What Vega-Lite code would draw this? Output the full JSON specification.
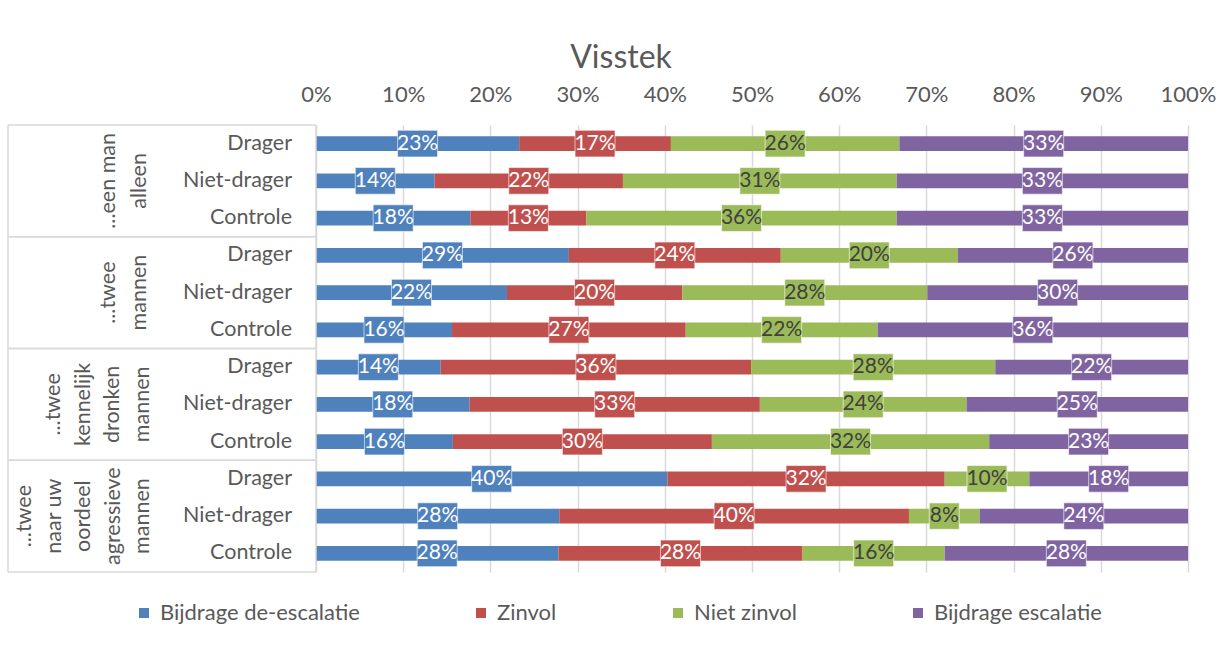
{
  "$schema": "https://vega.github.io/schema/vega-lite/v6.json",
  "autosize": {"type": "none"},
  "width": 1180,
  "height": 447,
  "padding": {"left": 8, "top": 125, "right": 30, "bottom": 80},
  "background": "white",
  "config": {"view": {"stroke": null}, "font": "Lato"},
  "title": {"text": "Visstek", "fontSize": 32, "font": "Lato", "fontWeight": "normal", "color": "#595959", "anchor": "middle", "dx": 23, "offset": 8},
  "data": {"values": [
    {"group": "...een man\nalleen", "cond": "Drager", "cat": "Bijdrage de-escalatie", "value": 0.233},
    {"group": "...een man\nalleen", "cond": "Drager", "cat": "Zinvol", "value": 0.174},
    {"group": "...een man\nalleen", "cond": "Drager", "cat": "Niet zinvol", "value": 0.262},
    {"group": "...een man\nalleen", "cond": "Drager", "cat": "Bijdrage escalatie", "value": 0.331},
    {"group": "...een man\nalleen", "cond": "Niet-drager", "cat": "Bijdrage de-escalatie", "value": 0.136},
    {"group": "...een man\nalleen", "cond": "Niet-drager", "cat": "Zinvol", "value": 0.216},
    {"group": "...een man\nalleen", "cond": "Niet-drager", "cat": "Niet zinvol", "value": 0.314},
    {"group": "...een man\nalleen", "cond": "Niet-drager", "cat": "Bijdrage escalatie", "value": 0.334},
    {"group": "...een man\nalleen", "cond": "Controle", "cat": "Bijdrage de-escalatie", "value": 0.177},
    {"group": "...een man\nalleen", "cond": "Controle", "cat": "Zinvol", "value": 0.133},
    {"group": "...een man\nalleen", "cond": "Controle", "cat": "Niet zinvol", "value": 0.356},
    {"group": "...een man\nalleen", "cond": "Controle", "cat": "Bijdrage escalatie", "value": 0.334},
    {"group": "...twee\nmannen", "cond": "Drager", "cat": "Bijdrage de-escalatie", "value": 0.290},
    {"group": "...twee\nmannen", "cond": "Drager", "cat": "Zinvol", "value": 0.243},
    {"group": "...twee\nmannen", "cond": "Drager", "cat": "Niet zinvol", "value": 0.203},
    {"group": "...twee\nmannen", "cond": "Drager", "cat": "Bijdrage escalatie", "value": 0.264},
    {"group": "...twee\nmannen", "cond": "Niet-drager", "cat": "Bijdrage de-escalatie", "value": 0.219},
    {"group": "...twee\nmannen", "cond": "Niet-drager", "cat": "Zinvol", "value": 0.201},
    {"group": "...twee\nmannen", "cond": "Niet-drager", "cat": "Niet zinvol", "value": 0.281},
    {"group": "...twee\nmannen", "cond": "Niet-drager", "cat": "Bijdrage escalatie", "value": 0.299},
    {"group": "...twee\nmannen", "cond": "Controle", "cat": "Bijdrage de-escalatie", "value": 0.156},
    {"group": "...twee\nmannen", "cond": "Controle", "cat": "Zinvol", "value": 0.268},
    {"group": "...twee\nmannen", "cond": "Controle", "cat": "Niet zinvol", "value": 0.220},
    {"group": "...twee\nmannen", "cond": "Controle", "cat": "Bijdrage escalatie", "value": 0.356},
    {"group": "...twee\nkennelijk\ndronken\nmannen", "cond": "Drager", "cat": "Bijdrage de-escalatie", "value": 0.143},
    {"group": "...twee\nkennelijk\ndronken\nmannen", "cond": "Drager", "cat": "Zinvol", "value": 0.356},
    {"group": "...twee\nkennelijk\ndronken\nmannen", "cond": "Drager", "cat": "Niet zinvol", "value": 0.280},
    {"group": "...twee\nkennelijk\ndronken\nmannen", "cond": "Drager", "cat": "Bijdrage escalatie", "value": 0.221},
    {"group": "...twee\nkennelijk\ndronken\nmannen", "cond": "Niet-drager", "cat": "Bijdrage de-escalatie", "value": 0.176},
    {"group": "...twee\nkennelijk\ndronken\nmannen", "cond": "Niet-drager", "cat": "Zinvol", "value": 0.333},
    {"group": "...twee\nkennelijk\ndronken\nmannen", "cond": "Niet-drager", "cat": "Niet zinvol", "value": 0.237},
    {"group": "...twee\nkennelijk\ndronken\nmannen", "cond": "Niet-drager", "cat": "Bijdrage escalatie", "value": 0.254},
    {"group": "...twee\nkennelijk\ndronken\nmannen", "cond": "Controle", "cat": "Bijdrage de-escalatie", "value": 0.157},
    {"group": "...twee\nkennelijk\ndronken\nmannen", "cond": "Controle", "cat": "Zinvol", "value": 0.297},
    {"group": "...twee\nkennelijk\ndronken\nmannen", "cond": "Controle", "cat": "Niet zinvol", "value": 0.318},
    {"group": "...twee\nkennelijk\ndronken\nmannen", "cond": "Controle", "cat": "Bijdrage escalatie", "value": 0.228},
    {"group": "...twee\nnaar uw\noordeel\nagressieve\nmannen", "cond": "Drager", "cat": "Bijdrage de-escalatie", "value": 0.403},
    {"group": "...twee\nnaar uw\noordeel\nagressieve\nmannen", "cond": "Drager", "cat": "Zinvol", "value": 0.318},
    {"group": "...twee\nnaar uw\noordeel\nagressieve\nmannen", "cond": "Drager", "cat": "Niet zinvol", "value": 0.097},
    {"group": "...twee\nnaar uw\noordeel\nagressieve\nmannen", "cond": "Drager", "cat": "Bijdrage escalatie", "value": 0.182},
    {"group": "...twee\nnaar uw\noordeel\nagressieve\nmannen", "cond": "Niet-drager", "cat": "Bijdrage de-escalatie", "value": 0.279},
    {"group": "...twee\nnaar uw\noordeel\nagressieve\nmannen", "cond": "Niet-drager", "cat": "Zinvol", "value": 0.401},
    {"group": "...twee\nnaar uw\noordeel\nagressieve\nmannen", "cond": "Niet-drager", "cat": "Niet zinvol", "value": 0.081},
    {"group": "...twee\nnaar uw\noordeel\nagressieve\nmannen", "cond": "Niet-drager", "cat": "Bijdrage escalatie", "value": 0.239},
    {"group": "...twee\nnaar uw\noordeel\nagressieve\nmannen", "cond": "Controle", "cat": "Bijdrage de-escalatie", "value": 0.278},
    {"group": "...twee\nnaar uw\noordeel\nagressieve\nmannen", "cond": "Controle", "cat": "Zinvol", "value": 0.280},
    {"group": "...twee\nnaar uw\noordeel\nagressieve\nmannen", "cond": "Controle", "cat": "Niet zinvol", "value": 0.163},
    {"group": "...twee\nnaar uw\noordeel\nagressieve\nmannen", "cond": "Controle", "cat": "Bijdrage escalatie", "value": 0.279}
  ]},
  "transform": [
    {"calculate": "datum.group + '|' + datum.cond", "as": "row"},
    {"calculate": "indexof(['Bijdrage de-escalatie','Zinvol','Niet zinvol','Bijdrage escalatie'], datum.cat)", "as": "ord"},
    {"stack": "value", "groupby": ["row"], "sort": [{"field": "ord", "order": "ascending"}], "as": ["v0", "v1"]},
    {"calculate": "(datum.v0 + datum.v1) / 2", "as": "mid"}
  ],
  "encoding": {
    "y": {
      "field": "row", "type": "nominal", "axis": null,
      "scale": {"paddingInner": 0, "paddingOuter": 0, "domain": [
        "...een man\nalleen|Drager", "...een man\nalleen|Niet-drager", "...een man\nalleen|Controle",
        "...twee\nmannen|Drager", "...twee\nmannen|Niet-drager", "...twee\nmannen|Controle",
        "...twee\nkennelijk\ndronken\nmannen|Drager", "...twee\nkennelijk\ndronken\nmannen|Niet-drager", "...twee\nkennelijk\ndronken\nmannen|Controle",
        "...twee\nnaar uw\noordeel\nagressieve\nmannen|Drager", "...twee\nnaar uw\noordeel\nagressieve\nmannen|Niet-drager", "...twee\nnaar uw\noordeel\nagressieve\nmannen|Controle"
      ]}
    }
  },
  "layer": [
    {
      "mark": {"type": "bar", "height": {"band": 0.4}},
      "encoding": {
        "x": {"field": "v0", "type": "quantitative", "title": null,
          "scale": {"domain": [-0.3532, 1], "nice": false, "zero": false},
          "axis": {"orient": "top", "values": [0, 0.1, 0.2, 0.3, 0.4, 0.5, 0.6, 0.7, 0.8, 0.9, 1], "format": ".0%",
            "labelFontSize": 22, "labelFont": "Lato", "labelColor": "#595959", "domain": false, "ticks": false,
            "grid": true, "gridColor": "#d9d9d9", "gridWidth": 1.5, "labelPadding": 19, "title": null, "labelFlush": false}},
        "x2": {"field": "v1"},
        "color": {"field": "cat", "type": "nominal",
          "scale": {"domain": ["Bijdrage de-escalatie", "Zinvol", "Niet zinvol", "Bijdrage escalatie"], "range": ["#4F81BD", "#C0504D", "#9BBB59", "#8064A2"]},
          "legend": {"orient": "none", "legendX": 125, "legendY": 477, "direction": "horizontal", "title": null,
            "symbolType": "square", "symbolSize": 100, "symbolStrokeWidth": 0, "labelFontSize": 22, "labelFont": "Lato",
            "labelColor": "#595959", "columnPadding": 110, "labelOffset": 5, "padding": 0, "labelLimit": 500}}
      }
    },
    {
      "transform": [{"filter": "datum.ord == 0 && datum.cond == 'Drager'"}],
      "mark": {"type": "rule", "color": "#d9d9d9", "strokeWidth": 1.5},
      "encoding": {
        "x": {"datum": -0.3532, "type": "quantitative"},
        "x2": {"datum": 0},
        "y": {"field": "row", "type": "nominal", "bandPosition": 0}
      }
    },
    {
      "transform": [{"filter": "datum.ord == 0 && datum.cond == 'Controle'"}],
      "mark": {"type": "rule", "color": "#d9d9d9", "strokeWidth": 1.5},
      "encoding": {
        "x": {"datum": -0.3532, "type": "quantitative"},
        "x2": {"datum": 0},
        "y": {"field": "row", "type": "nominal", "bandPosition": 1}
      }
    },
    {
      "transform": [{"filter": "datum.ord == 0 && datum.cond == 'Drager' && indexof(datum.group, 'alleen') >= 0"}],
      "mark": {"type": "rule", "color": "#d9d9d9", "strokeWidth": 1.5},
      "encoding": {"x": {"datum": 0, "type": "quantitative"}, "y": null}
    },
    {
      "transform": [{"filter": "datum.ord == 0 && datum.cond == 'Drager' && indexof(datum.group, 'alleen') >= 0"}],
      "mark": {"type": "rule", "color": "#d9d9d9", "strokeWidth": 1.5},
      "encoding": {"x": {"datum": -0.3532, "type": "quantitative"}, "y": null}
    },
    {
      "transform": [{"filter": "datum.ord == 0"}],
      "mark": {"type": "text", "align": "right", "baseline": "middle", "font": "Lato", "fontSize": 21.5, "color": "#595959"},
      "encoding": {
        "x": {"datum": -0.0275, "type": "quantitative"},
        "text": {"field": "cond"}
      }
    },
    {
      "transform": [{"filter": "datum.ord == 0 && datum.cond == 'Niet-drager' && indexof(datum.group, 'kennelijk') < 0 && indexof(datum.group, 'agressieve') < 0"}],
      "mark": {"type": "text", "align": "center", "baseline": "alphabetic", "angle": 270, "lineBreak": "\n", "lineHeight": 31, "font": "Lato", "fontSize": 21.5, "color": "#595959"},
      "encoding": {
        "x": {"datum": -0.2305, "type": "quantitative"},
        "text": {"field": "group"}
      }
    },
    {
      "transform": [{"filter": "datum.ord == 0 && datum.cond == 'Niet-drager' && indexof(datum.group, 'kennelijk') >= 0"}],
      "mark": {"type": "text", "align": "center", "baseline": "alphabetic", "angle": 270, "lineBreak": "\n", "lineHeight": 29.5, "font": "Lato", "fontSize": 21.5, "color": "#595959"},
      "encoding": {
        "x": {"datum": -0.2930, "type": "quantitative"},
        "text": {"field": "group"}
      }
    },
    {
      "transform": [{"filter": "datum.ord == 0 && datum.cond == 'Niet-drager' && indexof(datum.group, 'agressieve') >= 0"}],
      "mark": {"type": "text", "align": "center", "baseline": "alphabetic", "angle": 270, "lineBreak": "\n", "lineHeight": 29.5, "font": "Lato", "fontSize": 21.5, "color": "#595959"},
      "encoding": {
        "x": {"datum": -0.3268, "type": "quantitative"},
        "text": {"field": "group"}
      }
    },
    {
      "mark": {"type": "point", "filled": true, "stroke": "#ffffff", "strokeWidth": 1, "strokeOpacity": 0.6, "opacity": 1},
      "encoding": {
        "x": {"field": "mid", "type": "quantitative", "title": null},
        "fill": {"field": "cat", "type": "nominal", "legend": null,
          "scale": {"domain": ["Bijdrage de-escalatie", "Zinvol", "Niet zinvol", "Bijdrage escalatie"], "range": ["#4F81BD", "#C0504D", "#9BBB59", "#8064A2"]}},
        "shape": {"condition": {"test": "datum.value < 0.095", "value": "M -1 -0.88 H 1 V 0.88 H -1 Z"}, "value": "M -1 -0.665 H 1 V 0.665 H -1 Z"},
        "size": {"condition": {"test": "datum.value < 0.095", "value": 900}, "value": 1600}
      }
    },
    {
      "mark": {"type": "text", "align": "center", "baseline": "middle", "font": "Lato", "fontSize": 21},
      "encoding": {
        "x": {"field": "mid", "type": "quantitative", "title": null},
        "text": {"field": "value", "type": "quantitative", "format": ".0%"},
        "color": {"condition": {"test": "datum.cat == 'Niet zinvol'", "value": "#404040"}, "value": "#ffffff"}
      }
    }
  ]
}
